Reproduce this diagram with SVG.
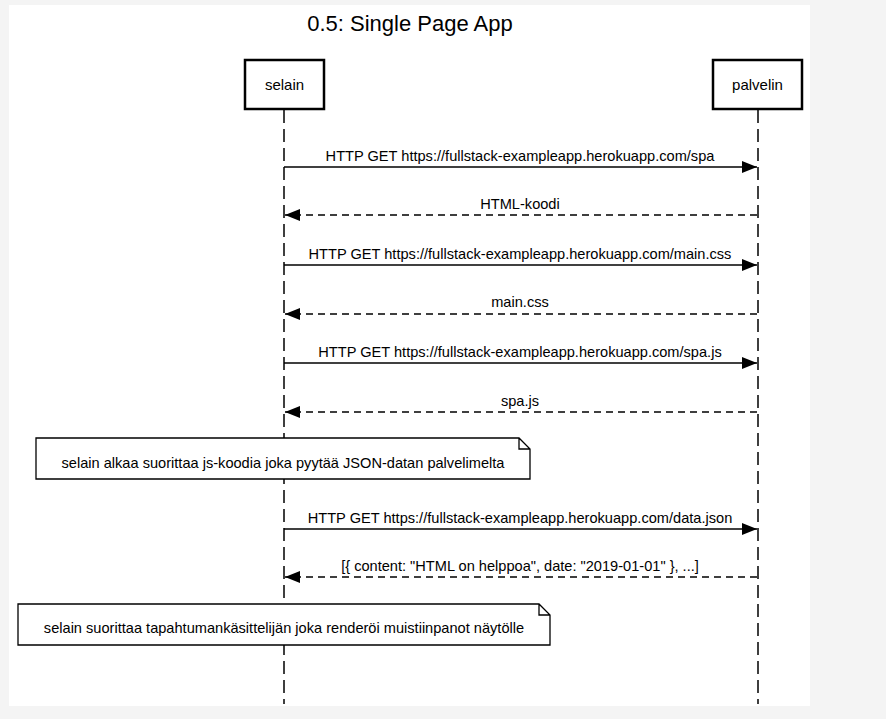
<svg xmlns="http://www.w3.org/2000/svg" width="886" height="719" viewBox="0 0 886 719">
<style>
text{font-family:"Liberation Sans",Arial,sans-serif;fill:#000;}
.lbl{font-size:14.6px;text-anchor:middle;}
.actor rect{fill:#fff;stroke:#000;stroke-width:2.5;}
.actor text{font-size:15px;text-anchor:middle;}
.life{stroke:#000;stroke-width:1.5;stroke-dasharray:13,6;fill:none;}
.msg{stroke:#000;stroke-width:1.3;fill:none;}
.ret{stroke:#000;stroke-width:1.3;fill:none;stroke-dasharray:7,5;}
.note path{fill:#fff;stroke:#000;stroke-width:1.3;}
.note text{font-size:14.6px;text-anchor:middle;}
</style>
<defs>
<marker id="ah" markerWidth="15" markerHeight="12" refX="15" refY="6" orient="auto" markerUnits="userSpaceOnUse">
<path d="M0,0 L15,6 L0,12 Z" fill="#000"/>
</marker>
</defs>
<rect x="0" y="0" width="886" height="719" fill="#f4f4f4"/>
<rect x="9" y="5" width="801" height="701" fill="#fff"/>
<text x="410" y="31" font-size="22" text-anchor="middle">0.5: Single Page App</text>
<g id="lifelines">
<line class="life" x1="284" y1="110" x2="284" y2="704"/>
<line class="life" x1="758" y1="110" x2="758" y2="704"/>
</g>
<g id="selain" class="actor">
<rect x="245" y="60" width="79" height="49"/>
<text x="284.5" y="90">selain</text>
</g>
<g id="palvelin" class="actor">
<rect x="713" y="60" width="89" height="49"/>
<text x="757.5" y="90">palvelin</text>
</g>
<g id="connectors">
<line class="msg" x1="284" y1="167" x2="757" y2="167" marker-end="url(#ah)"/>
<text class="lbl" x="520" y="161">HTTP GET https://fullstack-exampleapp.herokuapp.com/spa</text>
<line class="ret" x1="757" y1="215" x2="285" y2="215" marker-end="url(#ah)"/>
<text class="lbl" x="520" y="209">HTML-koodi</text>
<line class="msg" x1="284" y1="265" x2="757" y2="265" marker-end="url(#ah)"/>
<text class="lbl" x="520" y="259">HTTP GET https://fullstack-exampleapp.herokuapp.com/main.css</text>
<line class="ret" x1="757" y1="314" x2="285" y2="314" marker-end="url(#ah)"/>
<text class="lbl" x="520" y="307">main.css</text>
<line class="msg" x1="284" y1="363" x2="757" y2="363" marker-end="url(#ah)"/>
<text class="lbl" x="520" y="357">HTTP GET https://fullstack-exampleapp.herokuapp.com/spa.js</text>
<line class="ret" x1="757" y1="412" x2="285" y2="412" marker-end="url(#ah)"/>
<text class="lbl" x="520" y="406">spa.js</text>
<line class="msg" x1="284" y1="529" x2="757" y2="529" marker-end="url(#ah)"/>
<text class="lbl" x="520" y="523">HTTP GET https://fullstack-exampleapp.herokuapp.com/data.json</text>
<line class="ret" x1="757" y1="577" x2="285" y2="577" marker-end="url(#ah)"/>
<text class="lbl" x="520" y="571">[{ content: "HTML on helppoa", date: "2019-01-01" }, ...]</text>
</g>
<g id="note1" class="note">
<path d="M36,438 L519,438 L530,449 L530,479 L36,479 Z M519,438 L519,449 L530,449"/>
<text x="283" y="468">selain alkaa suorittaa js-koodia joka pyytää JSON-datan palvelimelta</text>
</g>
<g id="note2" class="note">
<path d="M18,604 L539,604 L550,615 L550,645 L18,645 Z M539,604 L539,615 L550,615"/>
<text x="284" y="633">selain suorittaa tapahtumankäsittelijän joka renderöi muistiinpanot näytölle</text>
</g>
</svg>
